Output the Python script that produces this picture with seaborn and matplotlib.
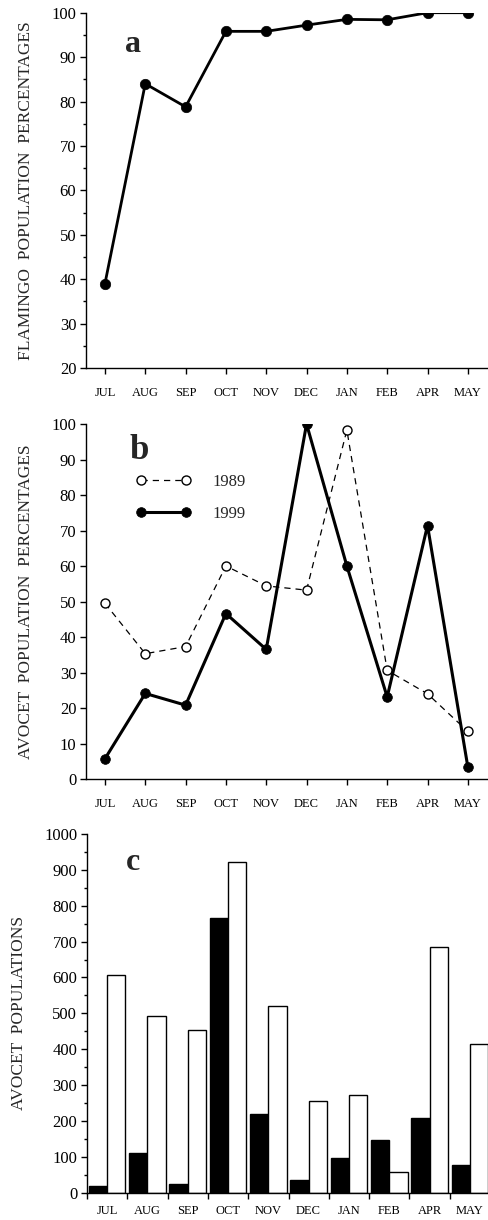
import numpy as np
import pandas as pd
import matplotlib
matplotlib.use('Agg')
import matplotlib.pyplot as plt
import seaborn as sns

# ==========================================
# data
# ==========================================
MONTHS = ['JUL', 'AUG', 'SEP', 'OCT', 'NOV', 'DEC', 'JAN', 'FEB', 'APR', 'MAY']

flamingo_pct = [39.0, 84.0, 78.8, 95.8, 95.8, 97.2, 98.5, 98.4, 100.0, 100.0]

avocet_pct_1989 = [49.5, 35.3, 37.3, 60.0, 54.4, 53.2, 98.3, 30.6, 24.0, 13.4]
avocet_pct_1999 = [5.7, 24.1, 20.8, 46.6, 36.5, 100.0, 60.0, 23.1, 71.4, 3.4]

avocet_counts_black = [18, 111, 23, 767, 219, 36, 98, 146, 208, 78]
avocet_counts_white = [608, 492, 453, 922, 520, 256, 271, 58, 685, 414]

OUTPUT_IMG = 'out.png'

sns.set_style('ticks')
plt.rcParams['font.family'] = ['Liberation Serif', 'DejaVu Serif']
plt.rcParams['axes.linewidth'] = 1.0
plt.rcParams['xtick.major.width'] = 1.0
plt.rcParams['ytick.major.width'] = 1.0
plt.rcParams['xtick.minor.width'] = 1.0
plt.rcParams['ytick.minor.width'] = 1.0
plt.rcParams['xtick.color'] = 'black'
plt.rcParams['ytick.color'] = 'black'
plt.rcParams['axes.edgecolor'] = 'black'

W, H = 488, 1220
fig = plt.figure(figsize=(W / 100, H / 100), dpi=100)


def px_axes(left, top, right, bottom):
    # figure pixel box -> add_axes rect
    return fig.add_axes([left / W, 1 - bottom / H, (right - left) / W, (bottom - top) / H])


def style_axis(ax, ylabel, label_x):
    sns.despine(ax=ax)
    ax.set_xlabel('')
    ax.set_ylabel(ylabel, fontsize=12.5)
    ax.yaxis.set_label_coords(label_x, 0.5)
    ax.tick_params(axis='y', which='major', direction='out', length=4, pad=3, labelsize=12)
    ax.tick_params(axis='y', which='minor', direction='out', length=2.5)
    ax.tick_params(axis='x', which='major', direction='out', length=4, pad=10, labelsize=9)


# ------------------------------------------
# panel a
# ------------------------------------------
ax_a = px_axes(86, 12.7, 490, 368)
df_a = pd.DataFrame({'month': MONTHS, 'pct': flamingo_pct})
sns.lineplot(data=df_a, x='month', y='pct', ax=ax_a, color='black', linewidth=2.0,
             marker='o', markersize=7.5, markeredgecolor='black', markeredgewidth=0.5,
             errorbar=None, sort=False)
ax_a.set_ylim(20, 100)
ax_a.set_xlim(-0.47, 9.55)
ax_a.set_yticks(np.arange(20, 101, 10))
ax_a.set_yticks(np.arange(25, 100, 10), minor=True)
style_axis(ax_a, 'FLAMINGO  POPULATION  PERCENTAGES', -0.128)
ax_a.set_xticks(range(len(MONTHS)))
ax_a.set_xticklabels(MONTHS)
fig.text(133 / W, 1 - 45 / H, 'a', fontsize=23, fontweight='bold', ha='center', va='center')

# ------------------------------------------
# panel b
# ------------------------------------------
ax_b = px_axes(86, 424, 490, 779)
df_b = pd.DataFrame({'month': MONTHS * 2,
                     'pct': avocet_pct_1989 + avocet_pct_1999,
                     'year': ['1989'] * len(MONTHS) + ['1999'] * len(MONTHS)})
sns.lineplot(data=df_b[df_b['year'] == '1989'], x='month', y='pct', ax=ax_b,
             color='black', linewidth=0.9, linestyle=(0, (5, 4)),
             marker='o', markersize=6.5, markerfacecolor='white',
             markeredgecolor='black', markeredgewidth=1.0,
             errorbar=None, sort=False, label='1989')
sns.lineplot(data=df_b[df_b['year'] == '1999'], x='month', y='pct', ax=ax_b,
             color='black', linewidth=2.2,
             marker='o', markersize=7.0, markeredgecolor='black', markeredgewidth=0.5,
             errorbar=None, sort=False, label='1999')
ax_b.set_ylim(0, 100)
ax_b.set_xlim(-0.47, 9.55)
ax_b.set_yticks(np.arange(0, 101, 10))
style_axis(ax_b, 'AVOCET  POPULATION  PERCENTAGES', -0.128)
ax_b.set_xticks(range(len(MONTHS)))
ax_b.set_xticklabels(MONTHS)
handles, labels = ax_b.get_legend_handles_labels()
ax_b.legend(handles, labels, loc='upper left', frameon=False, fontsize=12,
            numpoints=2, handlelength=3.3, handletextpad=1.3, labelspacing=0.95,
            borderpad=0, borderaxespad=0,
            bbox_to_anchor=(136 / W, 1 - 474 / H), bbox_transform=fig.transFigure)
fig.text(139 / W, 1 - 450 / H, 'b', fontsize=25, fontweight='bold', ha='center', va='center')

# ------------------------------------------
# panel c
# ------------------------------------------
ax_c = px_axes(87, 834, 490, 1192.7)
df_c = pd.DataFrame({'month': MONTHS * 2,
                     'count': avocet_counts_black + avocet_counts_white,
                     'series': ['filled'] * len(MONTHS) + ['open'] * len(MONTHS)})
sns.barplot(data=df_c, x='month', y='count', hue='series', ax=ax_c,
            palette=['black', 'white'], edgecolor='black', linewidth=1.0,
            width=0.91, legend=False, errorbar=None, saturation=1)
ax_c.set_ylim(0, 1000)
ax_c.set_xlim(-0.5, 9.45)
ax_c.set_yticks(np.arange(0, 1001, 100))
ax_c.set_yticks(np.arange(50, 1000, 100), minor=True)
style_axis(ax_c, 'AVOCET  POPULATIONS', -0.15)
ax_c.set_xticks(range(len(MONTHS)))
ax_c.set_xticklabels(MONTHS)
ax_c.set_xticks(np.arange(-0.5, 10, 1), minor=True)
ax_c.tick_params(axis='x', which='major', length=0, pad=9)
ax_c.tick_params(axis='x', which='minor', direction='out', length=4)
fig.text(133 / W, 1 - 863 / H, 'c', fontsize=23, fontweight='bold', ha='center', va='center')

plt.savefig(OUTPUT_IMG, dpi=100)
plt.close()
